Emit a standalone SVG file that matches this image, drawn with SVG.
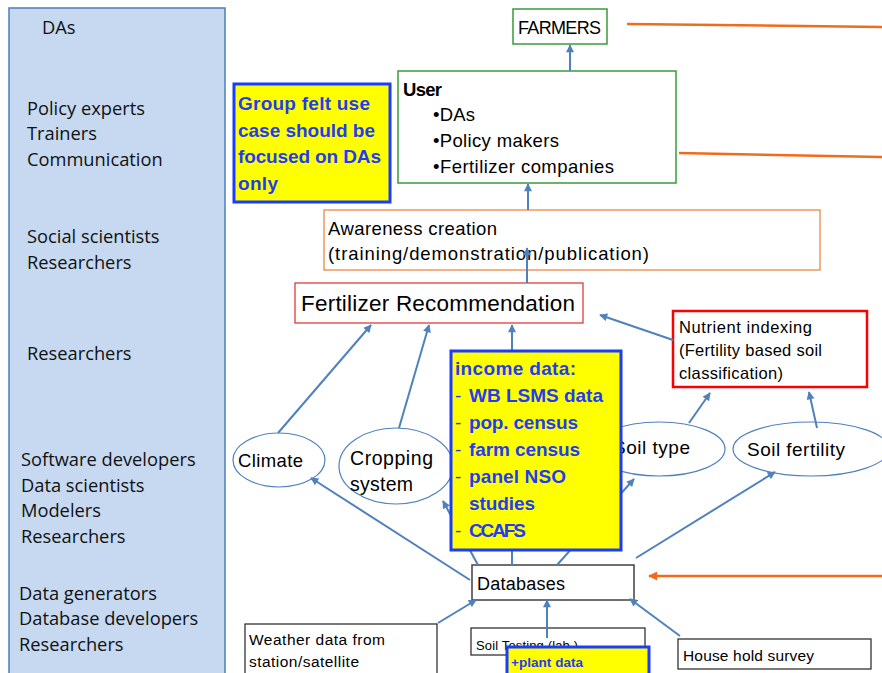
<svg xmlns="http://www.w3.org/2000/svg" width="882" height="673" viewBox="0 0 882 673">
  <defs>
    <marker id="arrow-blue" viewBox="0 0 10 10" refX="9" refY="5" markerWidth="9" markerHeight="8" markerUnits="userSpaceOnUse" orient="auto">
      <path d="M0,0 L10,5 L0,10 z" fill="#4f81bd"/>
    </marker>
    <marker id="arrow-orange" viewBox="0 0 10 10" refX="9" refY="5" markerWidth="10" markerHeight="9" markerUnits="userSpaceOnUse" orient="auto">
      <path d="M0,0 L10,5 L0,10 z" fill="#f26b1d"/>
    </marker>
  </defs>
  <style>
    .lane { fill: #c6d9f1; stroke: #4a7ebb; stroke-width: 1.5; }
    .lbl { font-family: "Open Sans", "DejaVu Sans", sans-serif; font-size: 18.3px; fill: #111; }
    .t { font-family: "Liberation Sans", Arial, sans-serif; fill: #000; }
    .note { font-family: "Liberation Sans", Arial, sans-serif; font-weight: bold; fill: #1f3cf5; }
    .dash { font-family: "Liberation Sans", Arial, sans-serif; fill: #1f3cf5; }
    .green { fill: #fff; stroke: #3a9a3a; stroke-width: 1.5; }
    .plain { fill: #fff; stroke: #222; stroke-width: 1.2; }
    .oval { fill: #fff; stroke: #4f81bd; stroke-width: 1.2; }
    .sticky { fill: #ffff00; stroke: #1a3cff; stroke-width: 3; }
    .link { fill: none; stroke: #4f81bd; stroke-width: 2; marker-end: url(#arrow-blue); }
    .feed { fill: none; stroke: #f26b1d; stroke-width: 2.5; }
  </style>

  <rect x="0" y="0" width="882" height="673" fill="#fff"/>

  <!-- stakeholder lane on the left -->
  <g id="stakeholders">
    <rect class="lane" x="9" y="8" width="216" height="680"/>
    <text class="lbl" x="42" y="34">DAs</text>
    <text class="lbl" x="27" y="115">Policy experts</text>
    <text class="lbl" x="27" y="140">Trainers</text>
    <text class="lbl" x="27" y="166">Communication</text>
    <text class="lbl" x="27" y="243">Social scientists</text>
    <text class="lbl" x="27" y="269">Researchers</text>
    <text class="lbl" x="27" y="360">Researchers</text>
    <text class="lbl" x="21" y="466">Software developers</text>
    <text class="lbl" x="21" y="492">Data scientists</text>
    <text class="lbl" x="21" y="517">Modelers</text>
    <text class="lbl" x="21" y="543">Researchers</text>
    <text class="lbl" x="19" y="600">Data generators</text>
    <text class="lbl" x="19" y="625">Database developers</text>
    <text class="lbl" x="19" y="651">Researchers</text>
  </g>

  <g id="farmers">
    <rect class="green" x="513" y="9" width="94" height="35"/>
    <text class="t" x="518" y="34" font-size="18" textLength="83">FARMERS</text>
  </g>

  <g id="user">
    <rect class="green" x="398" y="71" width="278" height="112"/>
    <text class="t" x="403" y="96" font-size="18.5" font-weight="bold" textLength="39">User</text>
    <text class="t" x="433" y="121" font-size="18.5" textLength="42">•DAs</text>
    <text class="t" x="433" y="147" font-size="18.5" textLength="126">•Policy makers</text>
    <text class="t" x="433" y="173" font-size="18.5" textLength="181">•Fertilizer companies</text>
  </g>

  <g id="awareness">
    <rect x="324" y="210" width="496" height="60" fill="#fff" stroke="#ed7d31" stroke-width="1.2"/>
    <text class="t" x="328" y="235" font-size="18.5" textLength="169">Awareness creation</text>
    <text class="t" x="328" y="260" font-size="18.5" textLength="321">(training/demonstration/publication)</text>
  </g>

  <g id="fertilizer-recommendation">
    <rect x="295" y="283" width="288" height="40" fill="#fff" stroke="#e02828" stroke-width="1.2"/>
    <text class="t" x="301" y="311" font-size="22.5" textLength="274">Fertilizer Recommendation</text>
  </g>

  <g id="nutrient-indexing">
    <rect x="673" y="311" width="194" height="76" fill="#fff" stroke="#ff0000" stroke-width="2.5"/>
    <text class="t" x="679" y="333" font-size="16.5" textLength="133">Nutrient indexing</text>
    <text class="t" x="679" y="356" font-size="16.5" textLength="143">(Fertility based soil</text>
    <text class="t" x="679" y="379" font-size="16.5" textLength="104">classification)</text>
  </g>

  <g id="climate">
    <ellipse class="oval" cx="279" cy="460" rx="46" ry="27"/>
    <text class="t" x="238" y="467" font-size="18.5" textLength="65">Climate</text>
  </g>

  <g id="cropping-system">
    <ellipse class="oval" cx="396" cy="466" rx="57" ry="38"/>
    <text class="t" x="350" y="465" font-size="19.5" textLength="83">Cropping</text>
    <text class="t" x="350" y="491" font-size="19.5" textLength="63">system</text>
  </g>

  <g id="soil-type">
    <ellipse class="oval" cx="659" cy="449" rx="66" ry="27"/>
    <text class="t" x="613" y="454" font-size="19" textLength="77">Soil type</text>
  </g>

  <g id="soil-fertility">
    <ellipse class="oval" cx="811" cy="449" rx="78" ry="27"/>
    <text class="t" x="747" y="456" font-size="19" textLength="98">Soil fertility</text>
  </g>

  <g id="databases">
    <rect x="472" y="565" width="162" height="35" fill="#fff" stroke="#404040" stroke-width="1.5"/>
    <text class="t" x="477" y="590" font-size="18" textLength="88">Databases</text>
  </g>

  <g id="weather-data">
    <rect class="plain" x="245" y="624" width="192" height="60"/>
    <text class="t" x="249" y="645" font-size="15.5" textLength="136">Weather data from</text>
    <text class="t" x="249" y="667" font-size="15.5" textLength="110">station/satellite</text>
  </g>

  <g id="soil-testing">
    <rect class="plain" x="471" y="628" width="174" height="27"/>
    <text class="t" x="476" y="650" font-size="13" textLength="102">Soil Testing (lab.)</text>
  </g>

  <g id="household-survey">
    <rect class="plain" x="678" y="639" width="193" height="30"/>
    <text class="t" x="683" y="661" font-size="15.5" textLength="131">House hold survey</text>
  </g>

  <!-- connectors -->
  <g id="connectors">
    <line class="link" x1="570" y1="71" x2="570" y2="45"/>
    <line class="link" x1="528" y1="210" x2="528" y2="184"/>
    <line class="link" x1="527" y1="283" x2="527" y2="248"/>
    <line class="link" x1="673" y1="340" x2="600" y2="315"/>
    <line class="link" x1="278" y1="433" x2="371" y2="325"/>
    <line class="link" x1="399" y1="428" x2="429" y2="325"/>
    <line class="link" x1="512" y1="565" x2="512" y2="325"/>
    <line class="link" x1="689" y1="423" x2="710" y2="393"/>
    <line class="link" x1="817" y1="428" x2="809" y2="392"/>
    <line class="link" x1="470" y1="580" x2="311" y2="478"/>
    <line class="link" x1="478" y1="565" x2="443" y2="501"/>
    <line class="link" x1="557" y1="565" x2="634" y2="479"/>
    <line class="link" x1="636" y1="558" x2="775" y2="472"/>
    <line class="link" x1="438" y1="623" x2="476" y2="600"/>
    <line class="link" x1="547" y1="638" x2="547" y2="600"/>
    <line class="link" x1="680" y1="636" x2="630" y2="599"/>
    <line class="feed" x1="627" y1="24" x2="882" y2="27"/>
    <line class="feed" x1="679" y1="153" x2="882" y2="157"/>
    <line class="feed" x1="882" y1="576" x2="649" y2="576" marker-end="url(#arrow-orange)"/>
  </g>

  <g id="note-das">
    <rect class="sticky" x="234" y="84" width="156" height="118"/>
    <text class="note" x="238" y="110" font-size="19" textLength="132">Group felt use</text>
    <text class="note" x="238" y="137" font-size="19" textLength="137">case should be</text>
    <text class="note" x="238" y="163" font-size="19" textLength="143">focused on DAs</text>
    <text class="note" x="238" y="190" font-size="19" textLength="40">only</text>
  </g>

  <g id="note-income">
    <rect class="sticky" x="451" y="351" width="170" height="199"/>
    <text class="note" x="455" y="375" font-size="19" textLength="121">income data:</text>
    <text class="dash" x="455" y="402" font-size="19">-</text>
    <text class="note" x="469" y="402" font-size="19" textLength="134">WB LSMS data</text>
    <text class="dash" x="455" y="429" font-size="19">-</text>
    <text class="note" x="469" y="429" font-size="19" textLength="109">pop. census</text>
    <text class="dash" x="455" y="456" font-size="19">-</text>
    <text class="note" x="469" y="456" font-size="19" textLength="111">farm census</text>
    <text class="dash" x="455" y="483" font-size="19">-</text>
    <text class="note" x="469" y="483" font-size="19" textLength="97">panel NSO</text>
    <text class="note" x="469" y="510" font-size="19" textLength="66">studies</text>
    <text class="dash" x="455" y="537" font-size="19">-</text>
    <text class="note" x="469" y="537" font-size="19" textLength="57">CCAFS</text>
  </g>

  <g id="note-plant">
    <rect class="sticky" x="507" y="647" width="142" height="40"/>
    <text class="note" x="511" y="667" font-size="13.5" textLength="72">+plant data</text>
  </g>
</svg>
